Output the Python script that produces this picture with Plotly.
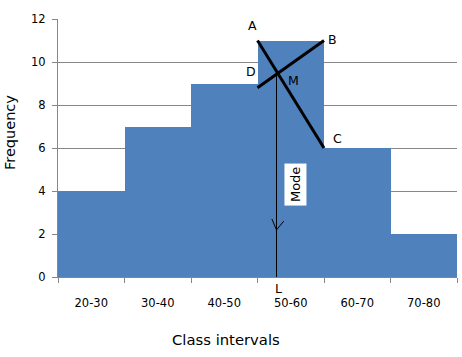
import plotly.graph_objects as go

categories = ["20-30", "30-40", "40-50", "50-60", "60-70", "70-80"]
frequency = [4, 7, 9, 11, 6, 2]
y_ticks = [0, 2, 4, 6, 8, 10, 12]

BAR = "#4F81BD"
GRID = "#878787"
FONT = "DejaVu Sans"

L_, R_, T_, B_ = 58, 5, 19, 80
W, H = 462, 357
PW, PH = W - L_ - R_, H - T_ - B_

def px_to_paper(px, py):
    return (px - L_) / PW, (H - B_ - py) / PH

modal = frequency.index(max(frequency))
xl = modal - 0.5   # left boundary of modal class (category coords)
xr = modal + 0.5   # right boundary
A = (xl, frequency[modal])
C = (xr, frequency[modal + 1])
D = (xl, frequency[modal - 1])
B = (xr, frequency[modal])
# intersection M of AC and DB
s1 = (C[1] - A[1]) / (C[0] - A[0])
s2 = (B[1] - D[1]) / (B[0] - D[0])
mx = A[0] + (D[1] - A[1]) / (s1 - s2)
my = A[1] + s1 * (mx - A[0])

fig = go.Figure()
fig.add_trace(go.Bar(x=categories, y=frequency, marker=dict(color=BAR, line=dict(width=0)),
                     hoverinfo="skip"))

shapes = [
    dict(type="line", x0=A[0], y0=A[1], x1=C[0], y1=C[1], line=dict(color="black", width=3)),
    dict(type="line", x0=D[0], y0=D[1] - 0.2, x1=B[0], y1=B[1], line=dict(color="black", width=3)),
    dict(type="line", x0=mx, y0=my, x1=mx, y1=0, line=dict(color="black", width=1)),
    dict(type="path", path=f"M {mx-0.07},2.7 L {mx},2.19 L {mx+0.11},2.6",
         line=dict(color="black", width=1)),
]

def lab(text, x, y, xs, ys):
    return dict(text=text, x=x, y=y, xref="x", yref="y", xshift=xs, yshift=ys,
                showarrow=False, font=dict(family=FONT, size=12.5, color="black"))

fx, fy = px_to_paper(10, 133)
cx, cy = px_to_paper(226, 339)
annotations = [
    lab("A", A[0], A[1], -5, 15),
    lab("B", B[0], B[1], 8, 1),
    lab("D", D[0], D[1], -7, 12),
    lab("M", mx, my, 17, -9),
    lab("C", C[0], C[1], 13, 10),
    lab("L", mx, 0, 2, -11),
    dict(text="Mode", x=mx, y=4.3, xref="x", yref="y", xshift=19, showarrow=False,
         textangle=-90, bgcolor="white", borderpad=3,
         font=dict(family=FONT, size=13, color="black")),
    dict(text="Frequency", x=fx, y=fy, xref="paper", yref="paper",
         xanchor="center", yanchor="middle",
         showarrow=False, textangle=-90, font=dict(family=FONT, size=14.5, color="black")),
    dict(text="Class intervals", x=cx, y=cy, xref="paper", yref="paper",
         xanchor="center", yanchor="middle",
         showarrow=False, font=dict(family=FONT, size=14.8, color="black")),
]

fig.update_layout(
    width=W, height=H,
    margin=dict(l=L_, r=R_, t=T_, b=B_),
    paper_bgcolor="white", plot_bgcolor="white",
    bargap=0, showlegend=False,
    font=dict(family=FONT, size=11.5, color="black"),
    shapes=shapes, annotations=annotations,
    xaxis=dict(type="category", tickson="boundaries", ticks="outside", ticklen=5,
               tickcolor=GRID, showgrid=False, showline=True, linecolor=GRID,
               tickfont=dict(family=FONT, size=11.5), range=[-0.5, 5.5], automargin=False,
               ticklabelstandoff=15),
    yaxis=dict(range=[0, 12], tickvals=y_ticks, ticks="outside", ticklen=5,
               tickcolor=GRID, showgrid=True, gridcolor=GRID, gridwidth=1,
               showline=True, linecolor=GRID, zeroline=False,
               tickfont=dict(family=FONT, size=11.5), automargin=False,
               ticklabelstandoff=4),
)

fig.write_html("out.html", config={"displayModeBar": False},
               post_script="document.body.style.margin='0';document.body.style.overflow='hidden';")
